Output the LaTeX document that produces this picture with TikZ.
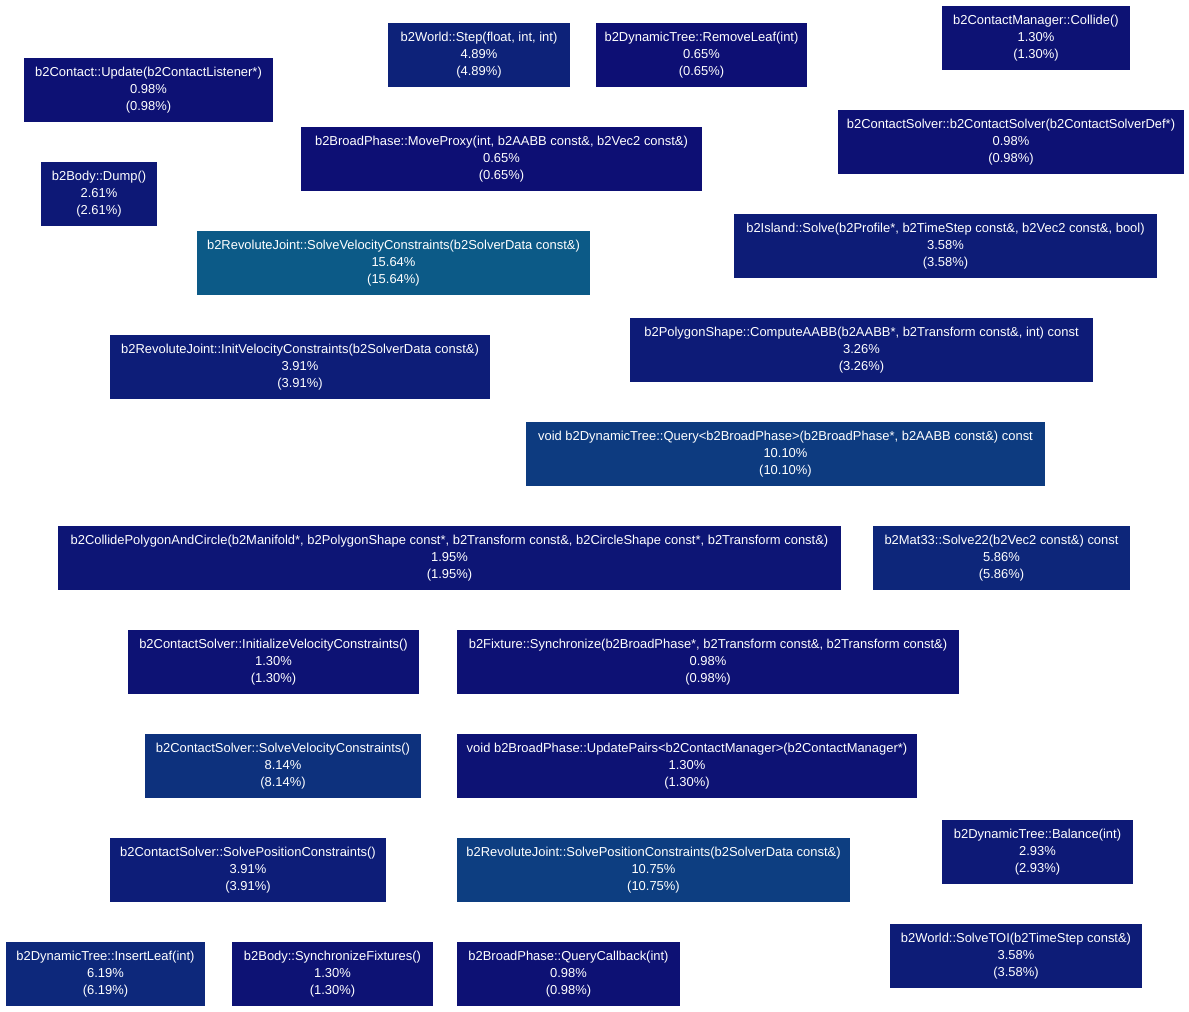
\documentclass[tikz,border=0pt]{standalone}
\usepackage{fontspec}
\setmainfont{Liberation Sans}
\definecolor{c065}{RGB}{13,15,116}
\definecolor{c098}{RGB}{13,17,116}
\definecolor{c130}{RGB}{13,18,116}
\definecolor{c195}{RGB}{13,21,117}
\definecolor{c261}{RGB}{13,24,118}
\definecolor{c293}{RGB}{13,25,118}
\definecolor{c326}{RGB}{13,27,119}
\definecolor{c358}{RGB}{13,28,119}
\definecolor{c391}{RGB}{13,29,120}
\definecolor{c489}{RGB}{13,34,121}
\definecolor{c586}{RGB}{13,38,122}
\definecolor{c619}{RGB}{13,40,123}
\definecolor{c814}{RGB}{13,49,125}
\definecolor{c1010}{RGB}{13,59,128}
\definecolor{c1075}{RGB}{13,62,129}
\definecolor{c1564}{RGB}{12,90,135}
\tikzset{
  pbox/.style={rectangle, inner sep=0pt, text=white, align=center,
    font=\fontsize{12.95}{17}\selectfont}
}
\newcommand\pnode[8]{%
  \node[pbox, fill=#6, minimum width={#4pt-#2pt}, minimum height={#5pt-#3pt}]
    (#1) at ({(#2+#4)/2},{(#3+#5)/2}) {#7\\#8\\(#8)};}
\begin{document}
\begin{tikzpicture}[x=1pt,y=-1pt]
\useasboundingbox[fill=white] (0,0) rectangle (1189,1012);
\pnode{step}{388}{23}{570}{87}{c489}{b2World::Step(float, int, int)}{4.89\%}
\pnode{removeleaf}{596}{23}{807}{87}{c065}{b2DynamicTree::RemoveLeaf(int)}{0.65\%}
\pnode{collide}{942}{6}{1130}{70}{c130}{b2ContactManager::Collide()}{1.30\%}
\pnode{cupdate}{24}{58}{273}{122}{c098}{b2Contact::Update(b2ContactListener*)}{0.98\%}
\pnode{moveproxy}{301}{127}{702}{191}{c065}{b2BroadPhase::MoveProxy(int, b2AABB const\&, b2Vec2 const\&)}{0.65\%}
\pnode{csolver}{838}{110}{1184}{174}{c098}{b2ContactSolver::b2ContactSolver(b2ContactSolverDef*)}{0.98\%}
\pnode{dump}{41}{162}{157}{226}{c261}{b2Body::Dump()}{2.61\%}
\pnode{rjsolvevel}{197}{231}{590}{295}{c1564}{b2RevoluteJoint::SolveVelocityConstraints(b2SolverData const\&)}{15.64\%}
\pnode{island}{734}{214}{1157}{278}{c358}{b2Island::Solve(b2Profile*, b2TimeStep const\&, b2Vec2 const\&, bool)}{3.58\%}
\pnode{rjinitvel}{110}{335}{490}{399}{c391}{b2RevoluteJoint::InitVelocityConstraints(b2SolverData const\&)}{3.91\%}
\pnode{computeaabb}{630}{318}{1093}{382}{c326}{b2PolygonShape::ComputeAABB(b2AABB*, b2Transform const\&, int) const}{3.26\%}
\pnode{query}{526}{422}{1045}{486}{c1010}{void b2DynamicTree::Query<b2BroadPhase>(b2BroadPhase*, b2AABB const\&) const}{10.10\%}
\pnode{collidepc}{58}{526}{841}{590}{c195}{b2CollidePolygonAndCircle(b2Manifold*, b2PolygonShape const*, b2Transform const\&, b2CircleShape const*, b2Transform const\&)}{1.95\%}
\pnode{solvetwo}{873}{526}{1130}{590}{c586}{b2Mat33::Solve22(b2Vec2 const\&) const}{5.86\%}
\pnode{csinitvel}{128}{630}{419}{694}{c130}{b2ContactSolver::InitializeVelocityConstraints()}{1.30\%}
\pnode{fixsync}{457}{630}{959}{694}{c098}{b2Fixture::Synchronize(b2BroadPhase*, b2Transform const\&, b2Transform const\&)}{0.98\%}
\pnode{cssolvevel}{145}{734}{421}{798}{c814}{b2ContactSolver::SolveVelocityConstraints()}{8.14\%}
\pnode{updatepairs}{457}{734}{917}{798}{c130}{void b2BroadPhase::UpdatePairs<b2ContactManager>(b2ContactManager*)}{1.30\%}
\pnode{balance}{942}{820}{1133}{884}{c293}{b2DynamicTree::Balance(int)}{2.93\%}
\pnode{cssolvepos}{110}{838}{386}{902}{c391}{b2ContactSolver::SolvePositionConstraints()}{3.91\%}
\pnode{rjsolvepos}{457}{838}{850}{902}{c1075}{b2RevoluteJoint::SolvePositionConstraints(b2SolverData const\&)}{10.75\%}
\pnode{solvetoi}{890}{924}{1142}{988}{c358}{b2World::SolveTOI(b2TimeStep const\&)}{3.58\%}
\pnode{insertleaf}{6}{942}{205}{1006}{c619}{b2DynamicTree::InsertLeaf(int)}{6.19\%}
\pnode{syncfix}{232}{942}{433}{1006}{c130}{b2Body::SynchronizeFixtures()}{1.30\%}
\pnode{querycb}{457}{942}{680}{1006}{c098}{b2BroadPhase::QueryCallback(int)}{0.98\%}
\end{tikzpicture}
\end{document}
